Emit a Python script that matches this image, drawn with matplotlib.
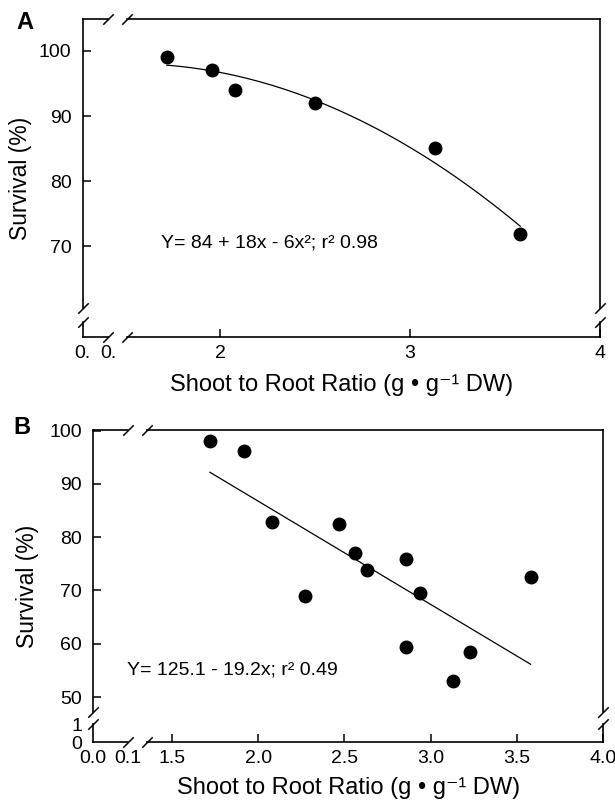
import numpy as np
import matplotlib
matplotlib.use('Agg')
import matplotlib.pyplot as plt

plt.rcParams['font.family'] = ['Liberation Sans', 'DejaVu Sans']

# Data - panel A
ratio_a = [1.72, 1.96, 2.08, 2.50, 3.13, 3.58]
surv_a = [99.1, 97.1, 94.0, 92.0, 85.1, 71.9]
eq_a = 'Y= 84 + 18x - 6x²; r² 0.98'

# Data - panel B
ratio_b = [1.72, 1.92, 2.08, 2.27, 2.47, 2.56, 2.63, 2.86, 2.86, 2.94, 3.13, 3.23, 3.58]
surv_b = [98.1, 96.2, 82.9, 68.9, 82.4, 77.0, 73.8, 75.9, 59.4, 69.5, 53.0, 58.4, 72.5]
eq_b = 'Y= 125.1 - 19.2x; r² 0.49'

xticks_a = [0, 0.1, 2, 3, 4]
xticklabels_a = ['0.', '0.', '2', '3', '4']
yticks_a = [70, 80, 90, 100]

xticks_b = [0, 0.1, 1.5, 2.0, 2.5, 3.0, 3.5, 4.0]
xticklabels_b = ['0.0', '0.1', '1.5', '2.0', '2.5', '3.0', '3.5', '4.0']
yticks_b = [0, 1, 50, 60, 70, 80, 90, 100]

xlabel = 'Shoot to Root Ratio (g • g⁻¹ DW)'
ylabel = 'Survival (%)'


def broken_scale(vals, pos):
    # piecewise linear scale: short stub, gap, then the main range
    vals = [vals[0] - 100] + list(vals) + [vals[-1] + 100]
    s0 = (pos[1] - pos[0]) / (vals[2] - vals[1])
    s1 = (pos[-1] - pos[-2]) / (vals[-2] - vals[-3])
    pos = [pos[0] - 100 * s0] + list(pos) + [pos[-1] + 100 * s1]
    fwd = lambda v: np.interp(v, vals, pos)
    inv = lambda p: np.interp(p, pos, vals)
    return fwd, inv


def draw_frame(ax, xb, yb):
    # spines with gaps, drawn by hand
    kw = dict(color='k', lw=1.2, clip_on=False, solid_capstyle='projecting')
    xt = ax.get_xaxis_transform()
    yt = ax.get_yaxis_transform()
    x0, x1 = ax.get_xlim()
    y0, y1 = ax.get_ylim()
    for yy in (0, 1):
        ax.plot([x0, xb[0]], [yy, yy], transform=xt, **kw)
        ax.plot([xb[1], x1], [yy, yy], transform=xt, **kw)
    for xx in (0, 1):
        ax.plot([xx, xx], [y0, yb[0]], transform=yt, **kw)
        ax.plot([xx, xx], [yb[1], y1], transform=yt, **kw)
    mk = dict(marker=[(-1, -1), (1, 1)], markersize=7.5, linestyle='none',
              color='k', mec='k', mew=1.1, clip_on=False)
    for yy in (0, 1):
        ax.plot(xb, [yy, yy], transform=xt, **mk)
    for xx in (0, 1):
        ax.plot([xx, xx], yb, transform=yt, **mk)
    for s in ax.spines.values():
        s.set_visible(False)


fig = plt.figure(figsize=(6.15, 8.09), dpi=100)

# Panel A
ax1 = fig.add_axes([0.1345, 0.5834, 0.8411, 0.3931])
ax1.set_xscale('function', functions=broken_scale([0, 0.1, 1.51, 4.0], [0, 25.3, 44.3, 517.3]))
ax1.set_yscale('function', functions=broken_scale([0, 1, 60.5, 104.9], [0, 15, 29, 318]))
ax1.set_xlim(0, 4.0)
ax1.set_ylim(0, 104.9)
ax1.plot(ratio_a, surv_a, 'o', color='k', ms=9, zorder=3)
ca = np.polyfit(ratio_a, surv_a, 2)
xa = np.linspace(min(ratio_a), max(ratio_a), 100)
ax1.plot(xa, np.polyval(ca, xa), color='k', lw=0.9)
ax1.set_xticks(xticks_a)
ax1.set_xticklabels(xticklabels_a)
ax1.set_yticks(yticks_a)
ax1.text(0.151, 0.296, eq_a, transform=ax1.transAxes, fontsize=14, va='center', ha='left')
draw_frame(ax1, [0.1, 1.51], [1, 60.5])

# Panel B
ax2 = fig.add_axes([0.1517, 0.0828, 0.8288, 0.3857])
ax2.set_xscale('function', functions=broken_scale([0, 0.1, 1.355, 4.0], [0, 34.7, 53.7, 509.7]))
ax2.set_yscale('function', functions=broken_scale([0, 1, 47.2, 100.1], [0, 18, 30, 312]))
ax2.set_xlim(0, 4.0)
ax2.set_ylim(0, 100.1)
ax2.plot(ratio_b, surv_b, 'o', color='k', ms=9, zorder=3)
cb = np.polyfit(ratio_b, surv_b, 1)
xb = np.linspace(min(ratio_b), max(ratio_b), 50)
ax2.plot(xb, np.polyval(cb, xb), color='k', lw=0.9)
ax2.set_xticks(xticks_b)
ax2.set_xticklabels(xticklabels_b)
ax2.set_yticks(yticks_b)
ax2.text(0.066, 0.231, eq_b, transform=ax2.transAxes, fontsize=14, va='center', ha='left')
draw_frame(ax2, [0.1, 1.355], [1, 47.2])

for ax, lx, ly, yx in [(ax1, 0.5, -0.151, -0.121), (ax2, 0.5, -0.148, -0.130)]:
    ax.tick_params(direction='in', length=5.5, width=1.1, labelsize=14, pad=8)
    ax.tick_params(axis='x', pad=6)
    ax.set_xlabel(xlabel, fontsize=17)
    ax.set_ylabel(ylabel, fontsize=16.5)
    ax.xaxis.set_label_coords(lx, ly)
    ax.xaxis.label.set_va('center')
    ax.yaxis.set_label_coords(yx, 0.5)
    ax.yaxis.label.set_va('center')

# no tick marks on the broken stubs
for t in ax1.xaxis.get_major_ticks()[:2]:
    t.tick1line.set_visible(False)
for t in ax2.xaxis.get_major_ticks()[:2]:
    t.tick1line.set_visible(False)
for t in ax2.yaxis.get_major_ticks()[:2]:
    t.tick1line.set_visible(False)

fig.text(0.0407, 0.9728, 'A', fontsize=17, fontweight='bold', ha='center', va='center')
fig.text(0.0358, 0.471, 'B', fontsize=17, fontweight='bold', ha='center', va='center')

plt.savefig('out.png', dpi=100)
